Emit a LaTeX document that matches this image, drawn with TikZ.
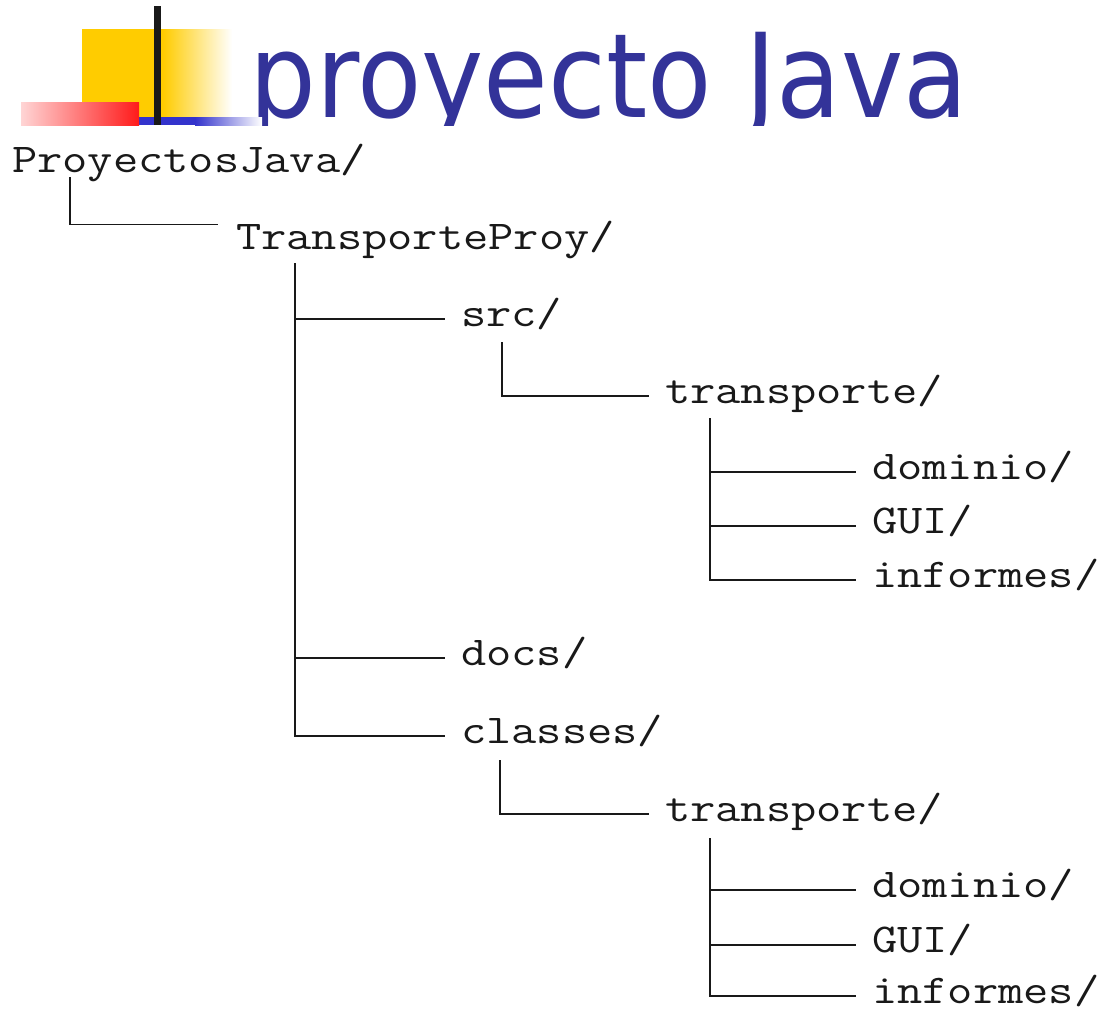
\documentclass[tikz,border=0pt]{standalone}
\usepackage{fontspec}
\usepackage{tikz}
\newfontfamily\headfont{DejaVu Sans}
\definecolor{headblue}{HTML}{333399}
\definecolor{barblue}{HTML}{3333CC}
\definecolor{baryellow}{HTML}{FFCC00}
\definecolor{barred}{HTML}{FF1A1A}
\definecolor{barpink}{HTML}{FFD5D5}

\begin{document}
\begin{tikzpicture}[x=1pt, y=-1pt,
	dir node/.style={anchor=base west, inner sep=0pt, yscale=0.835, text height=23pt, text depth=7pt, text=black!90, font=\ttfamily\fontsize{49}{49}\selectfont},
	branch/.style={-, line width=1.7pt, black!90, shorten >=16pt}]

			\useasboundingbox (0,0) rectangle (1106,1010);
			\fill[white] (0,0) rectangle (1106,1010);

			% heading, cut off at the bottom edge of the bars
			\begin{scope}
				\clip (0,0) rectangle (1106,125);
				\node[anchor=base west, inner sep=0pt, xscale=0.9, text=headblue, font=\headfont\fontsize{117}{117}\selectfont] (title) at (249,117) {proyecto Java};
			\end{scope}

			% bullet bars left of the heading
			\fill[baryellow] (82,29) rectangle (163,118);
			\shade[left color=baryellow, right color=white] (163,29) rectangle (232,118);
			\fill[barblue] (139,117) rectangle (195,125);
			\shade[left color=barblue, right color=white] (195,117) rectangle (262,125);
			\shade[left color=barpink, right color=barred] (21,102) rectangle (139,125);
			\fill[black!90] (154,6) rectangle (161,125);

			% folders
			\node[dir node] (1) at (12,172) {ProyectosJava/};
			\node[dir node] (2) at (236,249) {TransporteProy/};
			\node[dir node] (3) at (461,326) {src/};
			\node[dir node] (4) at (665,403) {transporte/};
			\node[dir node] (5) at (872,479) {dominio/};
			\node[dir node] (6) at (872,533) {GUI/};
			\node[dir node] (7) at (872,587) {informes/};
			\node[dir node] (8) at (461,665) {docs/};
			\node[dir node] (9) at (461,743) {classes/};
			\node[dir node] (10) at (665,821) {transporte/};
			\node[dir node] (11) at (872,897) {dominio/};
			\node[dir node] (12) at (872,952) {GUI/};
			\node[dir node] (13) at (872,1003) {informes/};

			% stems below each parent
			\coordinate (s1) at (70,177);
			\coordinate (s2) at (295,263);
			\coordinate (s3) at (502,342);
			\coordinate (s4) at (710,418);
			\coordinate (s9) at (500,760);
			\coordinate (s10) at (710,838);

			% ProyectosJava and TransporteProy
			\draw[branch, shorten >=18pt] (s1) |- ([yshift=5pt]2.north west);
			\draw[branch] (s2) |- (3.west);
			\draw[branch] (s2) |- (8.west);
			\draw[branch] (s2) |- (9.west);

			% sources
			\draw[branch] (s3) |- (4.west);
			\draw[branch] (s4) |- (5.west);
			\draw[branch] (s4) |- (6.west);
			\draw[branch] (s4) |- (7.west);

			% compiled classes
			\draw[branch] (s9) |- (10.west);
			\draw[branch] (s10) |- (11.west);
			\draw[branch] (s10) |- (12.west);
			\draw[branch] (s10) |- (13.west);

		\end{tikzpicture}
\end{document}
